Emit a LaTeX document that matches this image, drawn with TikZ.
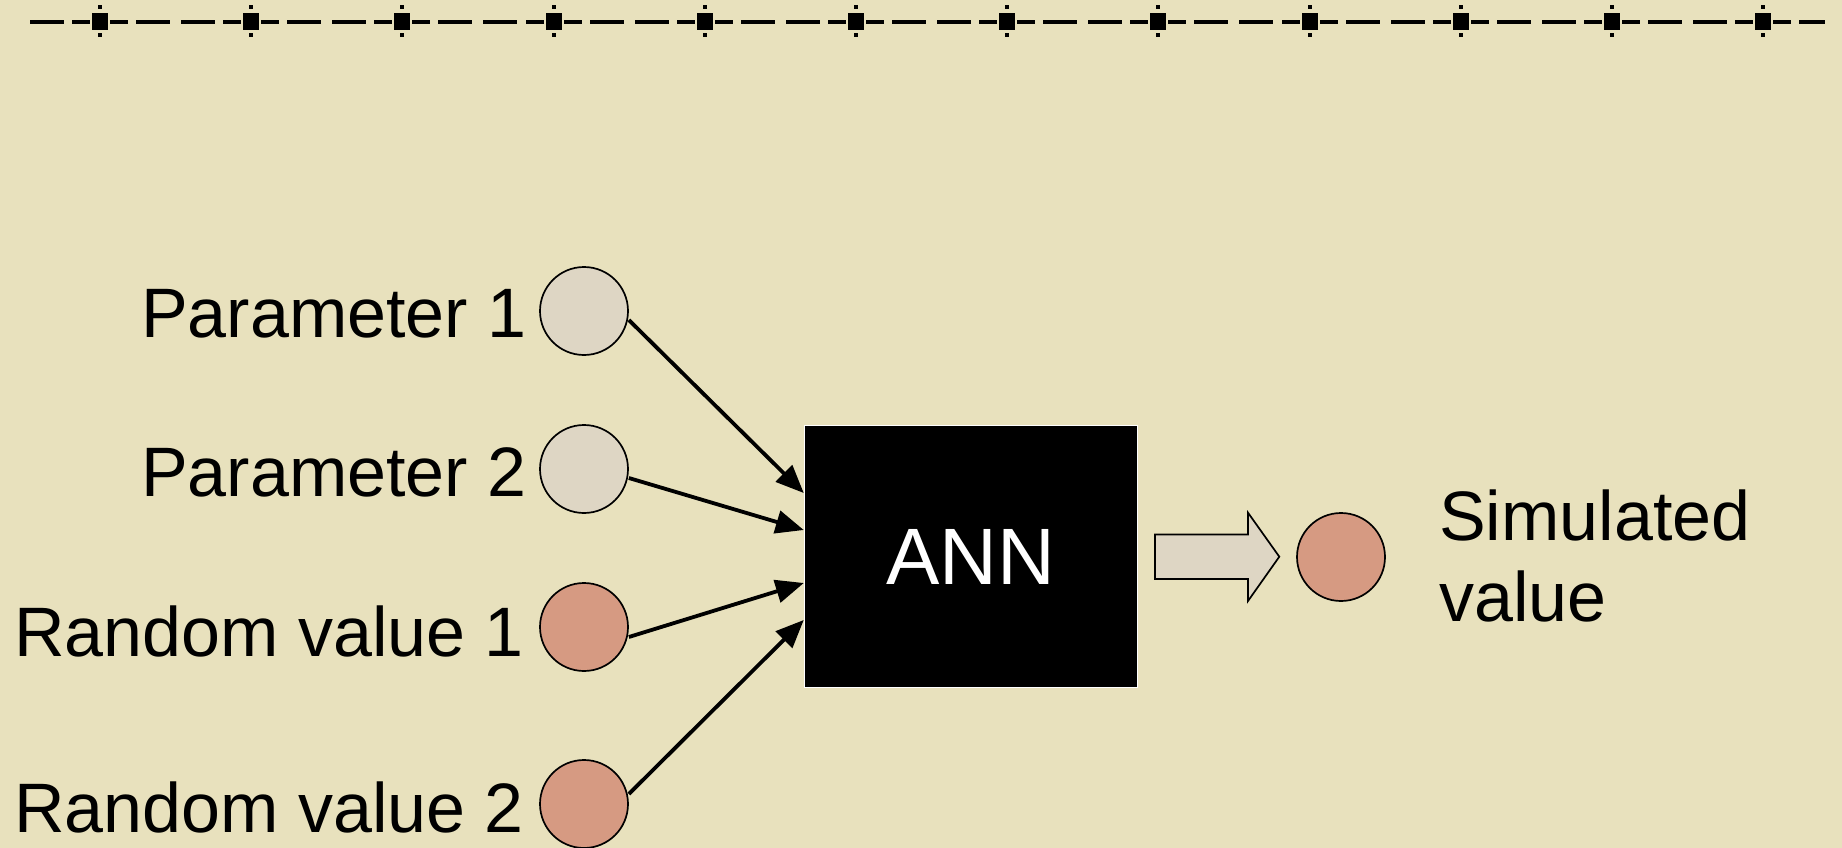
\documentclass[tikz,border=0pt]{standalone}
\usepackage{fontspec}
\setmainfont{Liberation Sans}
\usetikzlibrary{calc,arrows.meta}
\definecolor{paper}{HTML}{E8E1BD}
\definecolor{greyfill}{HTML}{DED6C4}
\definecolor{salmon}{HTML}{D69A82}
\tikzset{
  incircle/.style={circle, draw=black, line width=1.7pt, minimum size=88pt, inner sep=0pt},
  greynode/.style={incircle, fill=greyfill},
  rednode/.style={incircle, fill=salmon},
  lbl/.style={anchor=base west, inner sep=0pt, font=\fontsize{70}{82}\selectfont},
  annbox/.style={rectangle, fill=black, draw=white, line width=1.5pt, minimum width=333pt, minimum height=262pt, text=white, font=\fontsize{80}{90}\selectfont, inner sep=0pt},
  conn/.style={line width=3.8pt, -{Triangle[length=28pt,width=23pt]}},
  blockarrow/.style={draw=black, line width=1.7pt, fill=greyfill, line join=miter}
}
\begin{document}
\begin{tikzpicture}[x=1pt,y=-1pt]
\fill[paper] (0,0) rectangle (1842,848);
\useasboundingbox (0,0) rectangle (1842,848);
% top decorative dashed line
\fill (30,20) rectangle (64,24);
\foreach \i in {0,...,11} {
  \pgfmathsetmacro\c{100+151.2*\i}
  \fill (\c-8,13) rectangle (\c+8,30.5);
  \fill (\c-2,5.5) rectangle (\c+2,9.5);
  \fill (\c-2,33.5) rectangle (\c+2,37.5);
  \fill (\c-28,20) rectangle (\c-10,24);
  \fill (\c+10,20) rectangle (\c+28,24);
}
\foreach \i in {0,...,10} {
  \pgfmathsetmacro\c{100+151.2*\i}
  \fill (\c+36,20) rectangle (\c+70,24);
  \fill (\c+81,20) rectangle (\c+115,24);
}
\fill (1799,20) rectangle (1825,24);
% input circles
\node[greynode] (p1) at (584,311) {};
\node[greynode] (p2) at (584,469) {};
\node[rednode]  (r1) at (584,627) {};
\node[rednode]  (r2) at (584,804) {};
% labels
\node[lbl] (lp1) at (141,337) {Parameter 1};
\node[lbl] (lp2) at (141,496) {Parameter 2};
\node[lbl] (lr1) at (14,656) {Random value 1};
\node[lbl] (lr2) at (14,832) {Random value 2};
% ANN box
\node[annbox] (ann) at (971,556.5) {ANN};
% connectors
\draw[conn] ($(p1.east)+(0,9)$) -- ($(ann.west)+(0,-63.5)$);
\draw[conn] ($(p2.east)+(0,9)$) -- ($(ann.west)+(0,-26.5)$);
\draw[conn] ($(r1.east)+(0,10)$) -- ($(ann.west)+(0,26.5)$);
\draw[conn] ($(r2.east)+(0,-10)$) -- ($(ann.west)+(0,63.5)$);
% block arrow
\draw[blockarrow] (1155,534.5) -- (1248,534.5) -- (1248,512.7) -- (1279.3,556.7) -- (1248,601) -- (1248,579) -- (1155,579) -- cycle;
% output
\node[rednode] (out) at (1341,557) {};
\node[lbl, align=left, font=\fontsize{70}{81.7}\selectfont] (lout) at (1439,621.7) {Simulated\\value};
\end{tikzpicture}
\end{document}
